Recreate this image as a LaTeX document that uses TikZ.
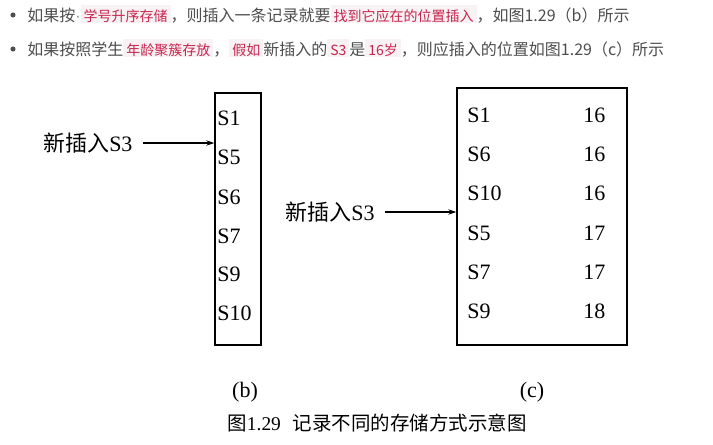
\documentclass[tikz,border=0pt]{standalone}
\usepackage{fontspec}
\setmainfont{Liberation Serif}
\newfontfamily\cjk{Noto Sans CJK SC}
\newfontfamily\latsans{Liberation Sans}
\usetikzlibrary{arrows.meta}
\definecolor{txt}{HTML}{4D4D4D}
\definecolor{hlbg}{HTML}{F9F2F4}
\definecolor{hlfg}{HTML}{C7254E}
\newcommand{\hlt}[1]{{\setlength{\fboxsep}{0pt}\colorbox{hlbg}{\rule[-1.5pt]{0pt}{13.5pt}\hspace{2.25pt}{\fontsize{10.5pt}{12pt}\selectfont\color{hlfg}#1}\hspace{2.25pt}}}}
\begin{document}
\begin{tikzpicture}[x=0.75pt,y=-0.75pt,
  topline/.style={anchor=base west, inner sep=0pt, text=txt, font=\cjk\fontsize{12pt}{14pt}\selectfont},
  lab/.style={inner sep=0pt, anchor=west, font=\fontsize{16.5pt}{18pt}\selectfont},
  recbox/.style={draw, line width=1.1pt, inner sep=0pt},
  arr/.style={line width=0.8pt, -{Stealth[length=6pt,width=4pt]}},
  bigl/.style={inner sep=0pt, font=\fontsize{16.5pt}{18pt}\selectfont}]
\fill[white] (0,0) rectangle (713,444);
\useasboundingbox (0,0) rectangle (713,444);
% top text
\fill[txt] (13,15) circle (1.9pt);
\fill[txt] (13,49) circle (1.9pt);
\node[topline] (l1) at (27,21) {如果按{\latsans\color{gray}·}\hlt{学号升序存储}，则插入一条记录就要\hlt{找到它应在的位置插入}，如图1.29（b）所示};
\node[topline] (l2) at (27,55) {如果按照学生\hlt{年龄聚簇存放}，\hlt{假如}新插入的\hlt{S3}是\hlt{16岁}，则应插入的位置如图1.29（c）所示};
% diagram (b)
\node[recbox, minimum width=34.5pt, minimum height=189pt] (boxb) at (238,219) {};
\node[lab] (b1) at (217,118) {S1};
\node[lab] (b2) at (217,157) {S5};
\node[lab] (b3) at (217,197) {S6};
\node[lab] (b4) at (217,236) {S7};
\node[lab] (b5) at (217,274) {S9};
\node[lab] (b6) at (217,313) {S10};
\node[lab] (insb) at (43,143) {{\cjk 新插入}S3};
\draw[arr, shorten <=7.5pt] (insb.east) -- (insb.east -| boxb.west);
% diagram (c)
\node[recbox, minimum width=127.5pt, minimum height=192.75pt] (boxc) at (542,216.5) {};
\node[lab] (c1) at (467,115) {S1};
\node[lab] (c2) at (467,154) {S6};
\node[lab] (c3) at (467,193) {S10};
\node[lab] (c4) at (467,233) {S5};
\node[lab] (c5) at (467,272) {S7};
\node[lab] (c6) at (467,311) {S9};
\node[lab] (d1) at (583,115) {16};
\node[lab] (d2) at (583,154) {16};
\node[lab] (d3) at (583,193) {16};
\node[lab] (d4) at (583,233) {17};
\node[lab] (d5) at (583,272) {17};
\node[lab] (d6) at (583,311) {18};
\node[lab] (insc) at (285,212) {{\cjk 新插入}S3};
\draw[arr, shorten <=7.5pt] (insc.east) -- (insc.east -| boxc.west);
% captions
\node[bigl] (capb) at (245,392) {(b)};
\node[bigl] (capc) at (532,392) {(c)};
\node[inner sep=0pt, font=\fontsize{14.6pt}{16pt}\selectfont] (cap) at (377,423) {{\cjk 图}1.29\hspace{9pt}{\cjk 记录不同的存储方式示意图}};
\end{tikzpicture}
\end{document}
